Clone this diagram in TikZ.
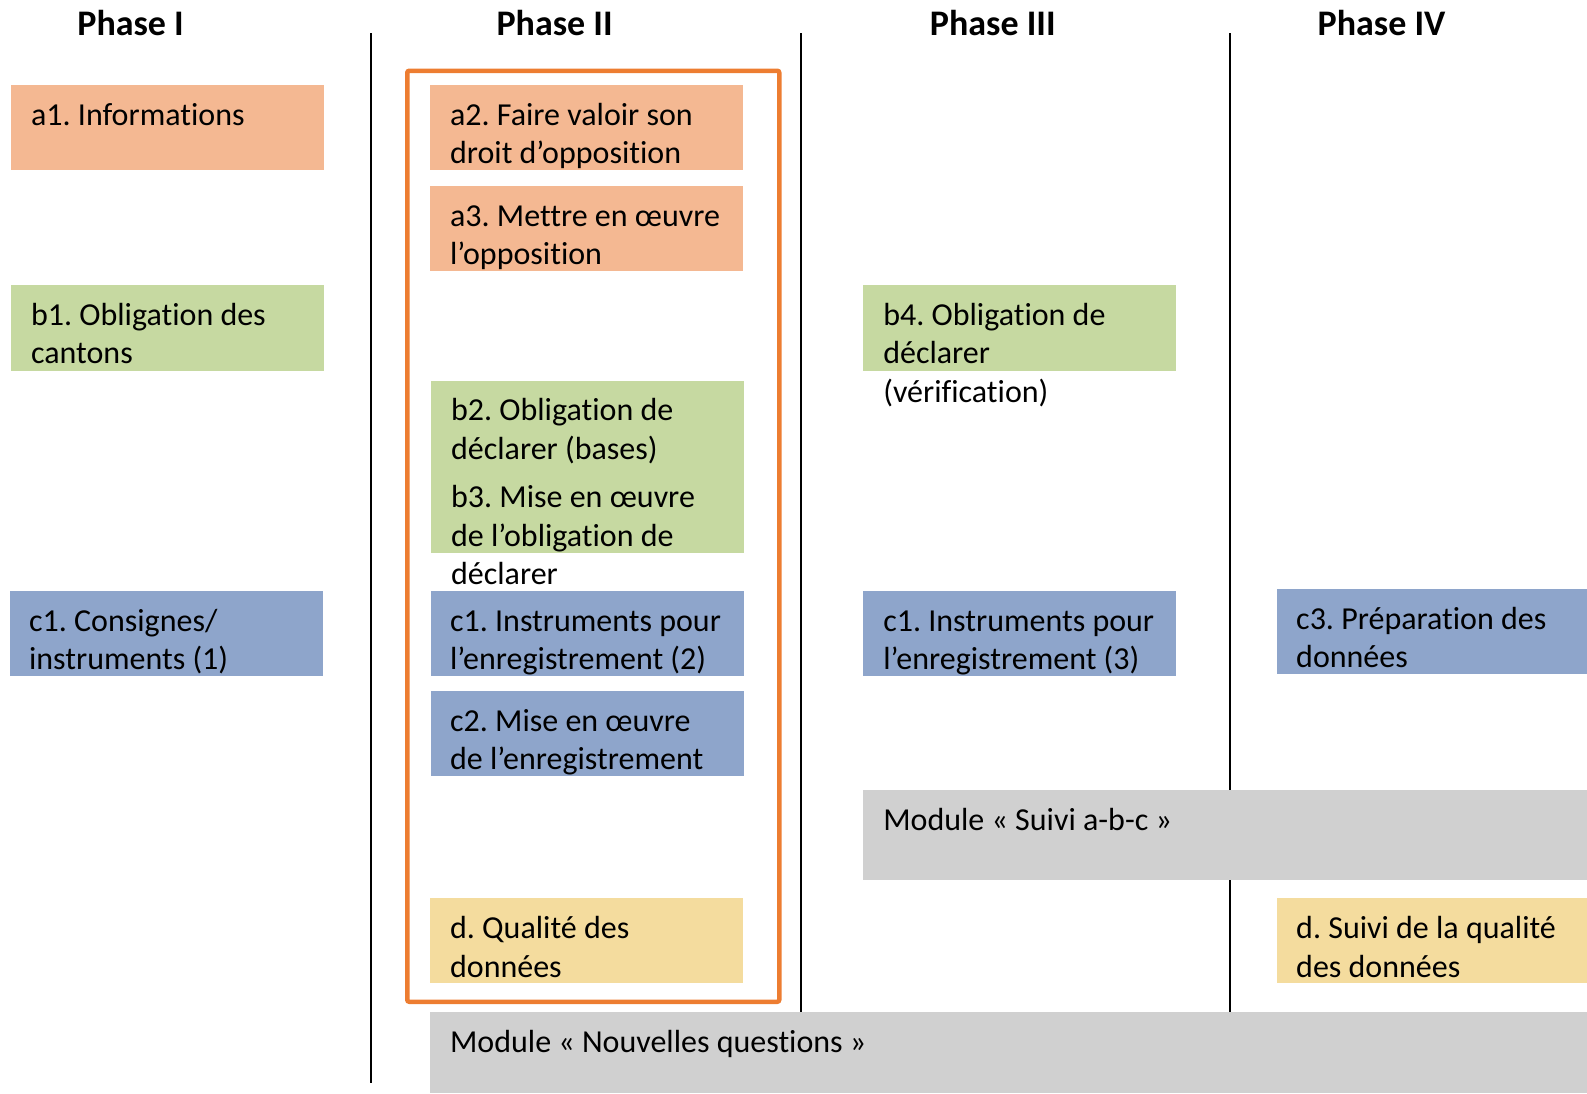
\documentclass[tikz,border=0pt]{standalone}
\usepackage{fontspec}
\setmainfont{Carlito}[Ligatures=NoCommon]
\usetikzlibrary{calc}
\definecolor{peach}{HTML}{F4B892}
\definecolor{leaf}{HTML}{C6D9A1}
\definecolor{sky}{HTML}{8EA5CB}
\definecolor{greybox}{HTML}{D0D0D0}
\definecolor{sand}{HTML}{F4DC9E}
\definecolor{frameorange}{HTML}{ED7D31}
\frenchspacing
\tikzset{
  box/.style={anchor=north west, inner sep=0pt, outer sep=0pt, draw=none},
  sbox/.style={box, minimum width=312.8pt, minimum height=85pt},
  txt/.style={anchor=base west, inner sep=0pt, outer sep=0pt, align=flush left, text width=#1,
    font=\fontsize{32}{38.5}\selectfont\frenchspacing},
  txt/.default=300pt,
  head/.style={anchor=base, inner sep=0pt, font=\fontsize{36}{40}\selectfont\bfseries},
  sep/.style={line width=2pt, black},
}
\begin{document}
\begin{tikzpicture}[x=1pt,y=-1pt]
\useasboundingbox (0,0) rectangle (1587,1093);
% headers
\node[head] (h1) at (130.6,35) {Phase I};
\node[head] (h2) at (554.6,35) {Phase II};
\node[head] (h3) at (992.8,35) {Phase III};
\node[head] (h4) at (1381.5,35) {Phase IV};
% separators
\coordinate (s1t) at (371,33.4); \coordinate (s1b) at (371,1083);
\coordinate (s2t) at (800.6,33.4); \coordinate (s2b) at (800.6,1012);
\coordinate (s3t) at (1229.7,33.4); \coordinate (s3b) at (1229.7,1012);
\draw[sep] (s1t) -- (s1b);
\draw[sep] (s2t) -- (s2b);
\draw[sep] (s3t) -- (s3b);
% boxes
\node[sbox, fill=peach] (a1) at (11.1,85) {};
\node[sbox, fill=peach] (a2) at (430.1,85) {};
\node[sbox, fill=peach] (a3) at (430.1,186.2) {};
\node[sbox, fill=leaf, minimum height=86pt] (b1) at (11.1,285.4) {};
\node[sbox, fill=leaf, minimum height=172pt] (b23) at (431.1,380.5) {};
\node[sbox, fill=leaf, minimum height=86pt] (b4) at (863.3,285.4) {};
\node[sbox, fill=sky] (c1a) at (10.1,591) {};
\node[sbox, fill=sky] (c1b) at (431.1,591) {};
\node[sbox, fill=sky] (c2) at (431.1,691.2) {};
\node[sbox, fill=sky] (c1c) at (863.3,591) {};
\node[sbox, fill=sky, minimum width=310pt] (c3) at (1277.2,589) {};
\node[box, fill=greybox, minimum width=723.7pt, minimum height=90pt] (ms) at (863.3,790.4) {};
\node[sbox, fill=sand] (d2) at (430.1,897.7) {};
\node[sbox, fill=sand, minimum width=310pt] (d4) at (1277.2,897.7) {};
\node[box, fill=greybox, minimum width=1157pt, minimum height=81pt] (mq) at (430.1,1012) {};
% orange frame
\node[draw=frameorange, line width=4.5pt, rounded corners=2pt, inner sep=0pt,
  minimum width=372pt, minimum height=931pt, anchor=north west] (frame) at (405,68.5) {};
% texts
\node[txt] (a1t) at ($(a1.north west)+(20,40)$) {a1. Informations};
\node[txt] (a2t) at ($(a2.north west)+(20,40)$) {a2. Faire valoir son\\droit d’opposition};
\node[txt] (a3t) at ($(a3.north west)+(20,40)$) {a3. Mettre en œuvre\\l’opposition};
\node[txt] (b1t) at ($(b1.north west)+(20,40)$) {b1. Obligation des\\cantons};
\node[txt] (b23t) at ($(b23.north west)+(20,40)$) {b2. Obligation de\\déclarer (bases)\\[10pt]b3. Mise en œuvre\\de l’obligation de\\déclarer};
\node[txt] (b4t) at ($(b4.north west)+(20,40)$) {b4. Obligation de\\déclarer\\(vérification)};
\node[txt] (c1at) at ($(c1a.north west)+(19,40)$) {c1. Consignes/\\instruments (1)};
\node[txt] (c1bt) at ($(c1b.north west)+(19,40)$) {c1. Instruments pour\\l’enregistrement (2)};
\node[txt] (c2t) at ($(c2.north west)+(19,40)$) {c2. Mise en œuvre\\de l’enregistrement};
\node[txt] (c1ct) at ($(c1c.north west)+(20,40)$) {c1. Instruments pour\\l’enregistrement (3)};
\node[txt] (c3t) at ($(c3.north west)+(19,40)$) {c3. Préparation des\\données};
\node[txt=650pt] (mst) at ($(ms.north west)+(20,40)$) {Module « Suivi a-b-c »};
\node[txt] (d2t) at ($(d2.north west)+(20,41)$) {d. Qualité des\\données};
\node[txt] (d4t) at ($(d4.north west)+(19,41)$) {d. Suivi de la qualité\\des données};
\node[txt=700pt] (mqt) at ($(mq.north west)+(20,40)$) {Module « Nouvelles questions »};
\end{tikzpicture}
\end{document}
